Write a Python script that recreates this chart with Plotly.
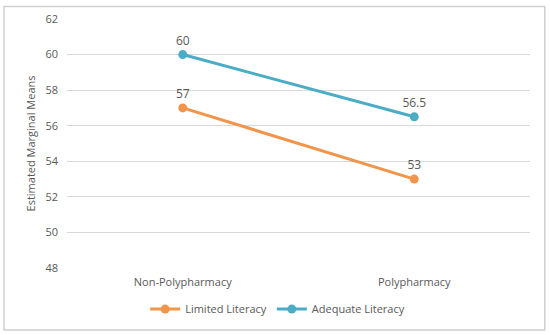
import plotly.graph_objects as go

categories = ["Non-Polypharmacy", "Polypharmacy"]
limited = [57, 53]
adequate = [60, 56.5]
limited_labels = ["57", "53"]
adequate_labels = ["60", "56.5"]

orange = "#F0954A"
blue = "#4BACC6"
txt = "#595959"

fig = go.Figure()
fig.add_trace(go.Scatter(
    x=categories, y=limited, name="Limited Literacy", mode="lines+markers+text",
    text=limited_labels, textposition="top center",
    textfont=dict(color=txt, size=12),
    line=dict(color=orange, width=3), marker=dict(size=9, color=orange)))
fig.add_trace(go.Scatter(
    x=categories, y=adequate, name="Adequate Literacy", mode="lines+markers+text",
    text=adequate_labels, textposition="top center",
    textfont=dict(color=txt, size=12),
    line=dict(color=blue, width=3), marker=dict(size=9, color=blue)))

fig.update_layout(
    width=550, height=335,
    margin=dict(l=67, r=20, t=19, b=67, autoexpand=False),
    paper_bgcolor="white", plot_bgcolor="white",
    font=dict(family="Open Sans", size=11, color=txt),
    xaxis=dict(range=[-0.5, 1.5], showgrid=False, showline=False, ticks="",
               ticklabelstandoff=6,
               tickfont=dict(size=11, color=txt), fixedrange=True, automargin=False),
    yaxis=dict(range=[48, 62], dtick=2, gridcolor="#D9D9D9", gridwidth=1,
               zeroline=False, showline=False, ticks="", ticklen=0,
               ticklabelstandoff=8, automargin=False,
               tickfont=dict(size=11, color=txt),
               title=dict(text="Estimated Marginal Means", font=dict(size=11, color=txt), standoff=7)),
    legend=dict(orientation="h", x=0.455, xanchor="center", y=-0.165, yanchor="middle",
                font=dict(size=11, color=txt), itemwidth=30),
    showlegend=True,
)
fig.add_shape(type="rect", xref="paper", yref="paper",
              x0=-0.136, x1=1.032, y0=-0.249, y1=1.05,
              line=dict(color="#D0D0D0", width=1.5), fillcolor="rgba(0,0,0,0)", layer="below")

fig.write_html("out.html", config={"displayModeBar": False},
               post_script="document.body.style.margin='0';document.body.style.overflow='hidden';")
